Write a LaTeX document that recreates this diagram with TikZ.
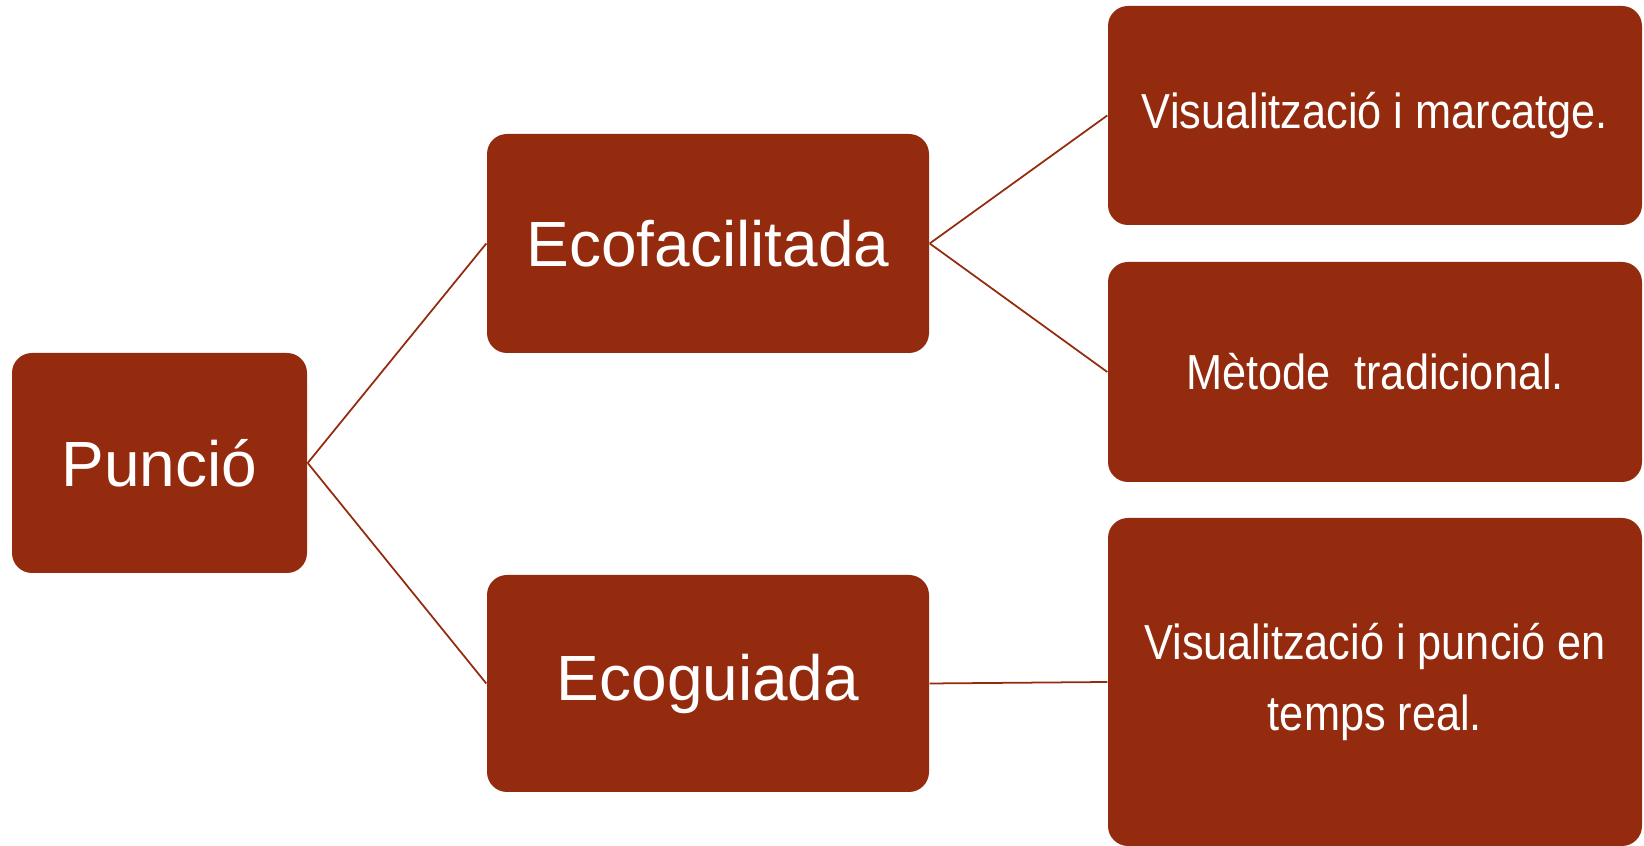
\documentclass[tikz,border=0pt]{standalone}
\usepackage{fontspec}
\setmainfont{Liberation Sans}
\usepackage{xcolor}
\definecolor{rust}{HTML}{952B0E}
\usetikzlibrary{calc}

\begin{document}
\begin{tikzpicture}[
    box/.style={rectangle, rounded corners=0.2cm, fill=rust, text=white, inner sep=0pt},
    big/.style={box, font=\fontsize{18.2}{21}\selectfont},
    small/.style={box, minimum width=5.34cm, font=\fontsize{14}{20}\selectfont, align=center},
    link/.style={rust, line width=0.5pt}
  ]
      \useasboundingbox (0,0) rectangle (16.44,8.46);
      \node[big, minimum width=2.95cm, minimum height=2.20cm] (punc) at (1.595, 3.83) {Punció};
      \node[big, minimum width=4.42cm, minimum height=2.19cm] (ecofac) at (7.08, 6.025) {Ecofacilitada};
      \node[big, minimum width=4.42cm, minimum height=2.17cm] (ecoguia) at (7.08, 1.625) {Ecoguiada};
      \node[small, minimum height=2.19cm] (marc) at (13.75, 7.305) {\scalebox{0.88}[1]{Visualització i marcatge.}};
      \node[small, minimum height=2.20cm] (trad) at (13.75, 4.74) {\scalebox{0.88}[1]{Mètode\ \ tradicional.}};
      \node[small, minimum height=3.28cm] (real) at (13.75, 1.64) {\scalebox{0.88}[1]{Visualització i punció en}\\\scalebox{0.88}[1]{temps real.}};

      \draw[link] (punc.east) -- (ecofac.west);
      \draw[link] (punc.east) -- (ecoguia.west);
      \draw[link] (ecofac.east) -- (marc.west);
      \draw[link] (ecofac.east) -- (trad.west);
      \draw[link] (ecoguia.east) -- (real.west);
    \end{tikzpicture}
\end{document}
